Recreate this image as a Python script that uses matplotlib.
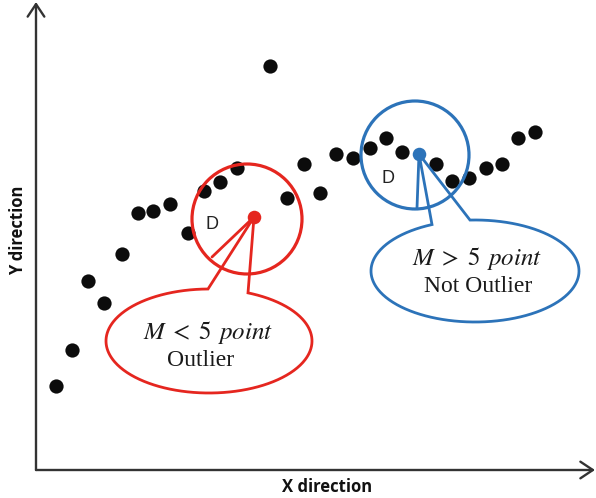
import numpy as np
import matplotlib
matplotlib.use("Agg")
import matplotlib.pyplot as plt
from matplotlib.patches import Circle

plt.rcParams["mathtext.fontset"] = "stix"

# Scatter sample (x, y in plot units measured from the axes origin)
x_vals = [20, 36, 52, 68, 86, 102, 117, 134, 152, 168, 184, 201, 234, 251,
          268, 284, 300, 317, 334, 350, 366, 400, 416, 433, 450, 466, 482, 499]
y_vals = [84, 120, 189, 167, 216, 257, 259, 266, 237, 279, 288, 302, 404, 272,
          306, 277, 316, 312, 322, 332, 318, 306, 289, 292, 302, 306, 332, 338]

# Highlighted query points and their neighbourhoods
red_point = (218, 253)
red_center = (211, 251)
red_radius = 55
blue_point = (383, 316)
blue_center = (379, 315)
blue_radius = 54

RED = "#e5261f"
BLUE = "#2c73b9"
AXIS = "#333333"

fig = plt.figure(figsize=(5.96, 4.98), dpi=100)
ax = fig.add_axes([0, 0, 1, 1])
ax.set_xlim(-36, 560)
ax.set_ylim(-28, 470)
ax.axis("off")

# Axes with open arrowheads
arrow = dict(arrowstyle="->,head_length=0.45,head_width=0.3", mutation_scale=20,
             lw=1.7, color=AXIS, shrinkA=0, shrinkB=0)
ax.annotate("", xy=(0, 468), xytext=(0, 0), arrowprops=arrow)
ax.annotate("", xy=(559, 0), xytext=(0, 0), arrowprops=arrow)

ax.text(-18, 240, "Y direction", rotation=90, ha="center", va="center",
        fontsize=12, fontweight="bold", family="Open Sans", color="#111111")
ax.text(291, -17, "X direction", ha="center", va="center",
        fontsize=12, fontweight="bold", family="Open Sans", color="#111111")

ax.scatter(x_vals, y_vals, s=105, color="#0c0c0c", zorder=3, linewidths=0)


def callout(point, center, radius, spoke_end, base_x, ell_c, ell_a, ell_b, color):
    ax.add_patch(Circle(center, radius, fill=False, ec=color, lw=2.3, zorder=4))
    ax.scatter([point[0]], [point[1]], s=95, color=color, zorder=5, linewidths=0)
    ax.plot([point[0], spoke_end[0]], [point[1], spoke_end[1]],
            color=color, lw=2.0, zorder=4, solid_capstyle="round")
    cx, cy = ell_c
    t_left = np.arccos((base_x[0] - cx) / ell_a)
    t_right = np.arccos((base_x[1] - cx) / ell_a)
    t = np.linspace(t_left, t_right + 2 * np.pi, 400)
    ex = cx + ell_a * np.cos(t)
    ey = cy + ell_b * np.sin(t)
    px = np.concatenate([[point[0]], ex, [point[0]]])
    py = np.concatenate([[point[1]], ey, [point[1]]])
    ax.plot(px, py, color=color, lw=2.0, zorder=4, solid_joinstyle="miter")


callout(red_point, red_center, red_radius, (176, 213), (172, 212),
        (173, 129), 103, 52, RED)
callout(blue_point, blue_center, blue_radius, (381, 262), (396, 434),
        (439, 199), 104, 51, BLUE)

ax.text(176, 246, "D", ha="center", va="center", fontsize=13,
        family="Liberation Sans", color="#222222", zorder=6)
ax.text(352, 292, "D", ha="center", va="center", fontsize=13,
        family="Liberation Sans", color="#222222", zorder=6)

ax.text(172, 138, r"$M\;<\;5\;\,point$", ha="center", va="center", fontsize=18,
        color="#1a1a1a")
ax.text(165, 110, "Outlier", ha="center", va="center", fontsize=17,
        family="Liberation Serif", color="#1a1a1a")
ax.text(441, 212, r"$M\;>\;5\;\,point$", ha="center", va="center", fontsize=18,
        color="#1a1a1a")
ax.text(442, 184, "Not Outlier", ha="center", va="center", fontsize=17,
        family="Liberation Serif", color="#1a1a1a")

fig.savefig("out.png", dpi=100)
